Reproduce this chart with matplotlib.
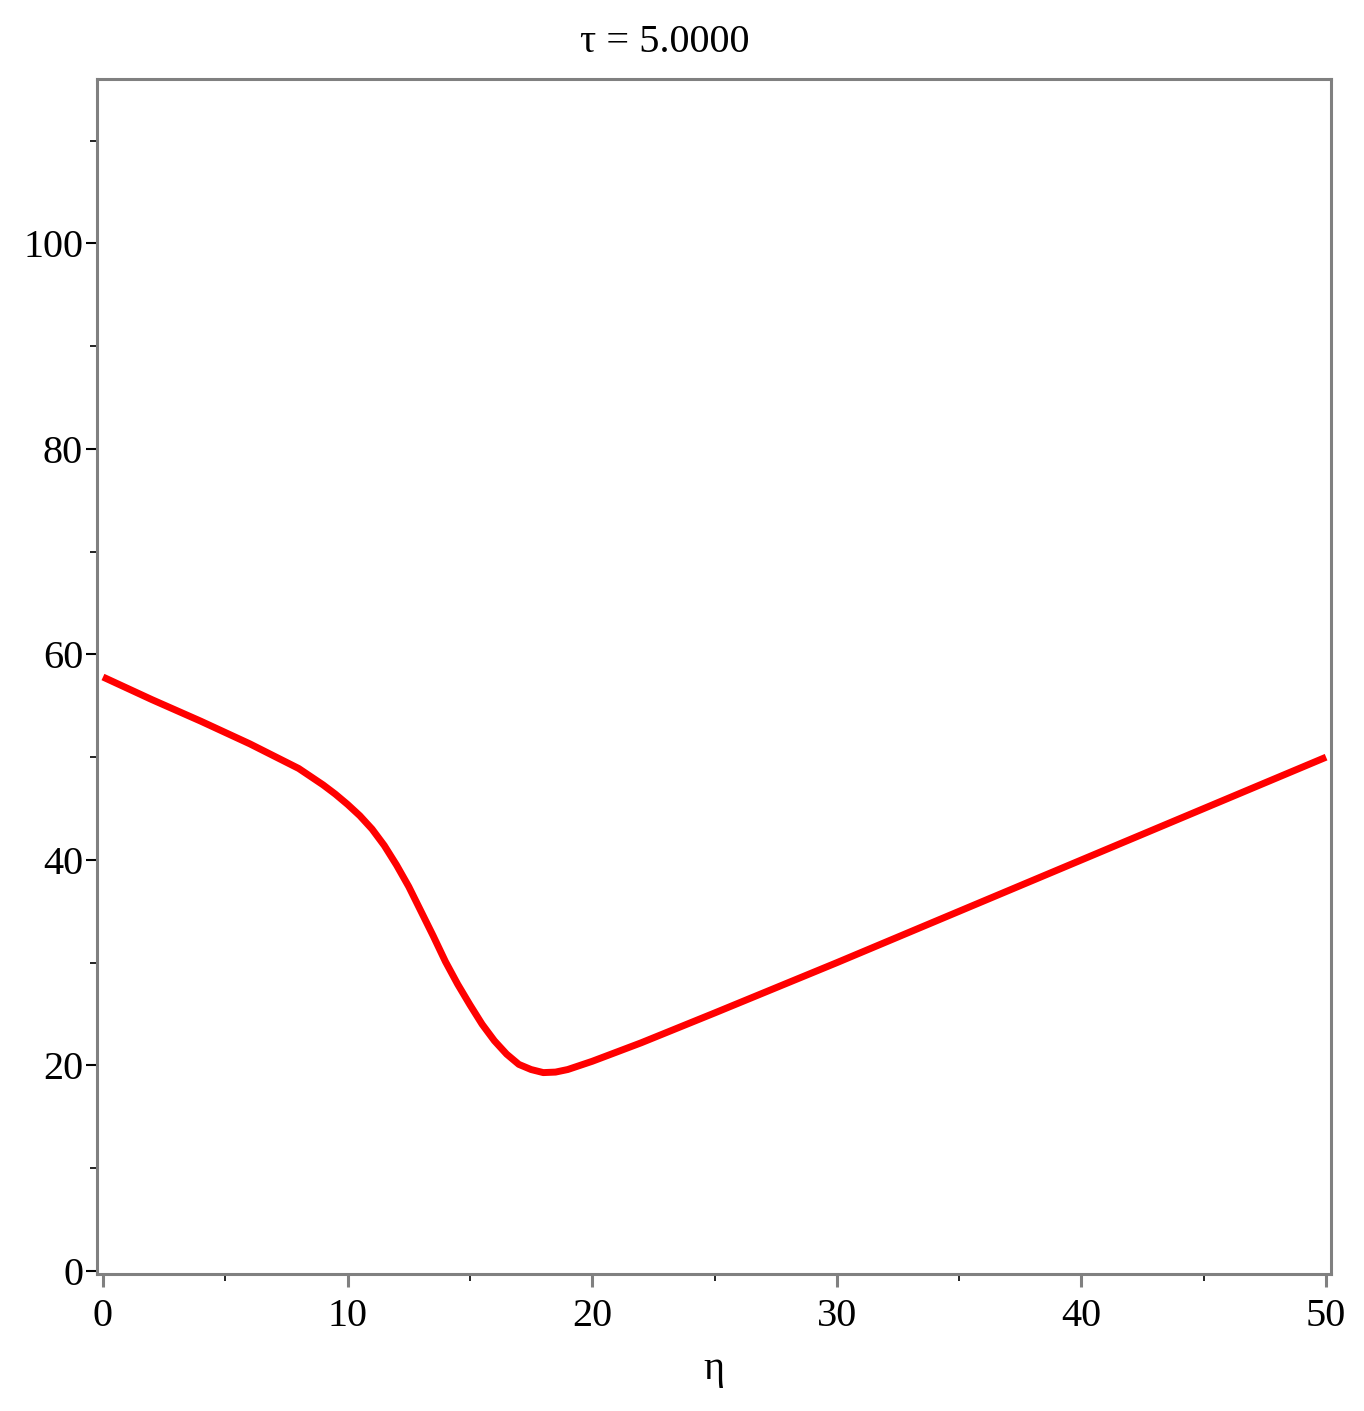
"""Single Maple-style curve at tau = 5."""
import matplotlib
matplotlib.use("Agg")
import matplotlib.pyplot as plt
from matplotlib.ticker import MultipleLocator

# values
eta = [0, 2, 4, 6, 7, 8, 8.5, 9, 9.5, 10, 10.5, 11, 11.5, 12, 12.5, 13, 13.5,
       14, 14.5, 15, 15.5, 16, 16.5, 17, 17.5, 18, 18.5, 19, 20, 22, 25, 30,
       35, 40, 45, 50]
u = [57.8, 55.6, 53.5, 51.3, 50.1, 48.9, 48.1, 47.3, 46.4, 45.4, 44.3, 43.0,
     41.4, 39.5, 37.4, 35.0, 32.6, 30.1, 27.9, 25.9, 24.0, 22.4, 21.1, 20.1,
     19.6, 19.3, 19.35, 19.6, 20.4, 22.2, 25.1, 30.0, 35.0, 40.0, 45.0, 50.0]

x_major = [0, 10, 20, 30, 40, 50]
y_major = [0, 20, 40, 60, 80, 100]
title = "\u03c4 = 5.0000"

plt.rcParams["font.family"] = ["Liberation Serif", "DejaVu Serif"]

fig = plt.figure(figsize=(13.64, 14.11), dpi=100)
ax = fig.add_axes([0.0711, 0.0971, 0.9047, 0.8469])

ax.plot(eta, u, color="#ff0000", linewidth=5, solid_capstyle="butt",
        solid_joinstyle="round")

ax.set_xlim(-0.245, 50.2)
ax.set_ylim(-0.3, 116)
ax.set_xticks(x_major)
ax.set_yticks(y_major)
ax.xaxis.set_minor_locator(MultipleLocator(5))
ax.yaxis.set_minor_locator(MultipleLocator(10))

for s in ax.spines.values():
    s.set_color("#808080")
    s.set_linewidth(2.2)

ax.tick_params(axis="x", which="major", direction="out", length=9, width=2.2,
               color="#808080", labelsize=29, pad=8)
ax.tick_params(axis="x", which="minor", direction="out", length=5, width=1.2,
               color="black")
ax.tick_params(axis="y", which="major", direction="out", length=8, width=1.5,
               color="black", labelsize=29, pad=2)
ax.tick_params(axis="y", which="minor", direction="out", length=5, width=1.2,
               color="black")

ax.set_xlabel("\u03b7", fontsize=29, labelpad=12)
fig.text(0.487, 0.9700, title, fontsize=29, ha="center", va="center")

fig.savefig("out.png", dpi=100)
